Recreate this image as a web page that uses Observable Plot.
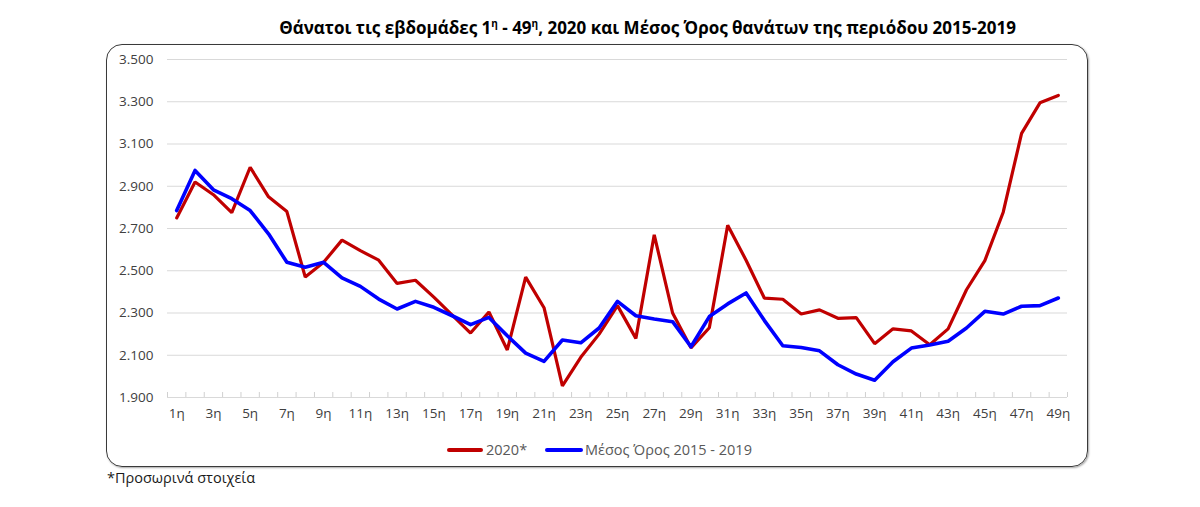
<!DOCTYPE html>
<html><head><meta charset="utf-8">
<script src="https://cdn.jsdelivr.net/npm/d3@7"></script>
<script src="https://cdn.jsdelivr.net/npm/@observablehq/plot@0.6"></script>
<style>
body{margin:0;background:#fff;font-family:"Open Sans",sans-serif;}
#wrap{position:relative;width:1200px;height:507px;overflow:hidden;background:#fff;}
#title{position:absolute;left:200px;width:895px;top:17px;text-align:center;font-weight:bold;font-size:17px;line-height:22px;color:#000;white-space:nowrap;}
#title sup{font-size:10px;line-height:0;vertical-align:7px;font-weight:bold;}
#box{position:absolute;left:106px;top:44px;width:980px;height:421px;border:1.5px solid #3a3a3a;border-radius:16px;box-shadow:1px 1px 2px rgba(0,0,0,.35);}
#chart{position:absolute;left:100px;top:40px;}
.sw{position:absolute;height:4px;border-radius:2px;}
.lt{position:absolute;font-size:14.5px;line-height:18px;color:#595959;white-space:nowrap;}
#foot{position:absolute;left:107px;top:469px;font-size:14.5px;line-height:18px;color:#1a1a1a;}
</style></head>
<body>
<div id="wrap">
  <div id="title">Θάνατοι τις εβδομάδες 1<sup>η</sup> - 49<sup>η</sup>, 2020 και Μέσος Όρος θανάτων της περιόδου 2015-2019</div>
  <div id="box"></div>
  <div id="chart"></div>
  <div class="sw" style="left:447px;top:448px;width:36px;background:#C00000"></div>
  <div class="lt" style="left:486px;top:441px;">2020*</div>
  <div class="sw" style="left:545px;top:448px;width:38px;background:#0000FF"></div>
  <div class="lt" style="left:585px;top:441px;">Μέσος Όρος 2015 - 2019</div>
  <div id="foot">*Προσωρινά στοιχεία</div>
</div>
<script>
const weeks = [1,2,3,4,5,6,7,8,9,10,11,12,13,14,15,16,17,18,19,20,21,22,23,24,25,26,27,28,29,30,31,32,33,34,35,36,37,38,39,40,41,42,43,44,45,46,47,48,49];
const deaths2020 = [2750,2920,2860,2775,2990,2850,2780,2470,2540,2645,2595,2550,2440,2455,2375,2290,2205,2305,2125,2470,2325,1955,2090,2200,2335,2180,2670,2300,2135,2230,2715,2550,2370,2365,2295,2315,2275,2278,2155,2225,2215,2150,2225,2410,2548,2777,3150,3295,3330];
const avg2015_2019 = [2785,2975,2883,2841,2785,2675,2540,2517,2540,2466,2426,2366,2319,2355,2327,2287,2245,2279,2192,2110,2071,2172,2159,2229,2355,2287,2272,2259,2140,2283,2343,2395,2264,2145,2137,2121,2055,2011,1982,2069,2134,2149,2166,2229,2308,2295,2332,2335,2371];
const yTicks = [1900,2100,2300,2500,2700,2900,3100,3300,3500];
const xLabelWeeks = [1,3,5,7,9,11,13,15,17,19,21,23,25,27,29,31,33,35,37,39,41,43,45,47,49];

const rows2020 = weeks.map((w,i)=>({week:w, value:deaths2020[i]}));
const rowsAvg = weeks.map((w,i)=>({week:w, value:avg2015_2019[i]}));
const boundaries = weeks.map(w=>w-0.5).concat([weeks[weeks.length-1]+0.5]);
const fmt = d => d3.format(",")(d).replace(/,/g, ".");

const chart = Plot.plot({
  width: 980, height: 390,
  marginLeft: 67, marginRight: 13, marginTop: 19, marginBottom: 33,
  style: {fontFamily: "Open Sans", fontSize: "13.5px", color: "#404040", background: "transparent", overflow: "visible"},
  x: {type: "linear", domain: [0.5, 49.5]},
  y: {domain: [1900, 3500]},
  marks: [
    Plot.gridY(yTicks, {stroke: "#d9d9d9", strokeOpacity: 1, strokeWidth: 1}),
    Plot.axisY(yTicks, {tickSize: 0, tickPadding: 14, tickFormat: fmt, fontSize: 13.5, fill: "#404040", label: null}),
    Plot.axisX(boundaries, {tickSize: 5, tickFormat: () => "", stroke: "#d0d0d0", label: null, dy: -5}),
    Plot.axisX(xLabelWeeks, {tickSize: 0, tickPadding: 11, tickFormat: d => d + "η", fontSize: 13.5, fill: "#404040", label: null}),
    Plot.line(rows2020, {x: "week", y: "value", stroke: "#C00000", strokeWidth: 3.2, strokeLinejoin: "miter"}),
    Plot.line(rowsAvg, {x: "week", y: "value", stroke: "#0000FF", strokeWidth: 3.6, strokeLinejoin: "round"})
  ]
});
document.getElementById("chart").appendChild(chart);
</script>
</body></html>
